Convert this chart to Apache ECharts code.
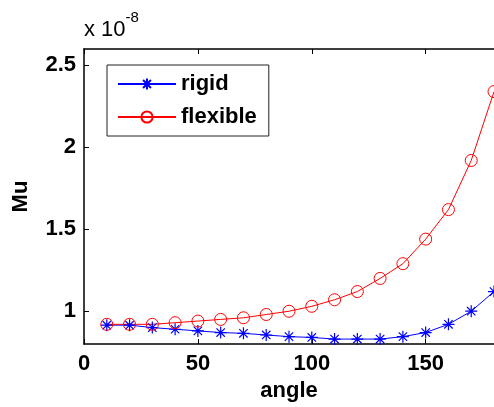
<!DOCTYPE html>
<html>
<head>
<meta charset="utf-8">
<script src="https://cdn.jsdelivr.net/npm/echarts@6/dist/echarts.min.js"></script>
<style>
  html, body { margin: 0; padding: 0; background: #fff; }
  #chart { width: 494px; height: 407px; }
</style>
</head>
<body>
<div id="chart"></div>
<script>
// angle values (x) and Mu values in units of 1e-8
const angles = [10, 20, 30, 40, 50, 60, 70, 80, 90, 100, 110, 120, 130, 140, 150, 160, 170, 180]
const rigid = [0.915, 0.915, 0.9, 0.89, 0.88, 0.87, 0.865, 0.855, 0.845, 0.84, 0.83, 0.83, 0.83, 0.845, 0.87, 0.92, 1.0, 1.12]
const flexible = [0.92, 0.92, 0.92, 0.93, 0.94, 0.95, 0.96, 0.98, 1.0, 1.03, 1.07, 1.12, 1.2, 1.29, 1.44, 1.62, 1.92, 2.34]
const yTicks = [1, 1.5, 2, 2.5]

const font = 'Liberation Sans, Arial, sans-serif'
const asterisk = 'path://M0,-1L0,1M-1,0L1,0M-0.7,-0.7L0.7,0.7M-0.7,0.7L0.7,-0.7'

const myChart = echarts.init(document.getElementById('chart'))

const option = {
  animation: false,
  grid: { left: 84, top: 49, right: -4, bottom: 59 },
  legend: {
    orient: 'vertical',
    left: 107,
    top: 65,
    padding: [8, 12, 8, 10],
    itemGap: 11,
    itemWidth: 58,
    itemHeight: 14,
    borderColor: '#222',
    borderWidth: 1,
    textStyle: { fontFamily: font, fontWeight: 'bold', fontSize: 22, color: '#000' },
    data: ['rigid', 'flexible']
  },
  graphic: [
    {
      type: 'text',
      left: 84,
      top: 10,
      style: {
        text: '{a|x 10}{b|-8}',
        rich: {
          a: { fontFamily: font, fontSize: 22, color: '#000', padding: [9, 0, 0, 0] },
          b: { fontFamily: font, fontSize: 15, color: '#000', verticalAlign: 'top' }
        }
      }
    }
  ],
  xAxis: [
    {
      type: 'value',
      min: 0,
      max: 180,
      interval: 50,
      name: 'angle',
      nameLocation: 'middle',
      nameGap: 36,
      nameTextStyle: { fontFamily: font, fontWeight: 'bold', fontSize: 22, color: '#000' },
      axisLine: { show: true, lineStyle: { color: '#000', width: 1.5 } },
      axisTick: { show: true, inside: true, length: 5, lineStyle: { color: '#000' } },
      axisLabel: { fontFamily: font, fontWeight: 'bold', fontSize: 22, color: '#000', margin: 9, showMaxLabel: false },
      splitLine: { show: false }
    },
    {
      type: 'value',
      position: 'top',
      min: 0,
      max: 180,
      interval: 50,
      axisLine: { show: true, lineStyle: { color: '#000', width: 1.5 } },
      axisTick: { show: true, inside: true, length: 5, lineStyle: { color: '#000' } },
      axisLabel: { show: false },
      splitLine: { show: false }
    }
  ],
  yAxis: {
    type: 'value',
    min: 0.8,
    max: 2.6,
    name: 'Mu',
    nameLocation: 'middle',
    nameGap: 52,
    nameTextStyle: { fontFamily: font, fontWeight: 'bold', fontSize: 22, color: '#000' },
    axisLine: { show: true, lineStyle: { color: '#000', width: 1.5 } },
    axisTick: { show: true, inside: true, length: 5, customValues: yTicks, lineStyle: { color: '#000' } },
    axisLabel: { fontFamily: font, fontWeight: 'bold', fontSize: 22, color: '#000', margin: 8, customValues: yTicks },
    splitLine: { show: false }
  },
  series: [
    {
      name: 'rigid',
      type: 'line',
      data: angles.map((a, i) => [a, rigid[i]]),
      symbol: asterisk,
      symbolSize: 12,
      lineStyle: { color: '#0000ff', width: 1 },
      itemStyle: { color: '#0000ff', borderColor: '#0000ff', borderWidth: 1.2 }
    },
    {
      name: 'flexible',
      type: 'line',
      data: angles.map((a, i) => [a, flexible[i]]),
      symbol: 'circle',
      symbolSize: 12,
      lineStyle: { color: '#ff0000', width: 1 },
      itemStyle: { color: 'rgba(255,255,255,0)', borderColor: '#ff0000', borderWidth: 1 }
    }
  ]
}

myChart.setOption(option)
</script>
</body>
</html>
